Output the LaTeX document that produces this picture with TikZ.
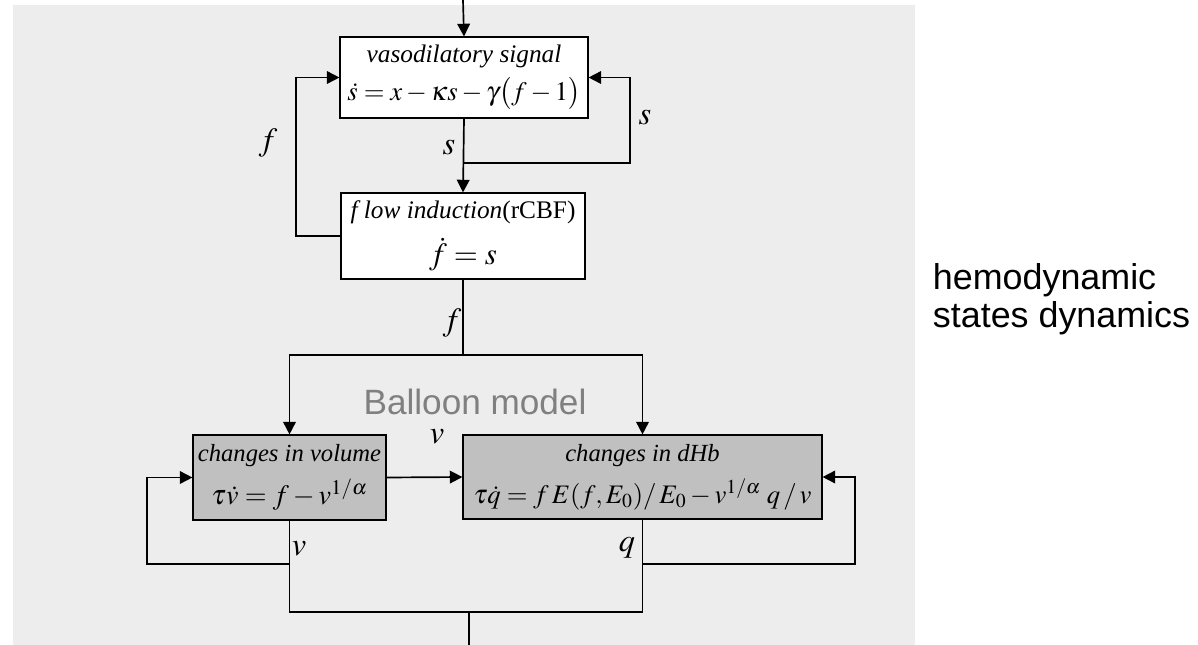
\documentclass[tikz,border=0pt]{standalone}
\usepackage{amsmath}
\usepackage{mathptmx}
\usepackage[no-math]{fontspec}
\setmainfont{Liberation Serif}
\newfontfamily\hemosans{Liberation Sans}
\usetikzlibrary{arrows.meta, positioning, calc}
\definecolor{bggray}{HTML}{EDEDED}
\definecolor{boxgray}{HTML}{C0C0C0}

\begin{document}
\begin{tikzpicture}[x=0.025cm, y=-0.025cm,
    blk/.style={draw, line width=0.8pt, align=center, inner sep=0pt},
    arr/.style={-{Triangle[length=9pt,width=9pt]}},
    ln/.style={line width=1.2pt},
    lbl/.style={font=\fontsize{23}{25}\selectfont}]
  \useasboundingbox (0,0) rectangle (1198,645);
  % background
  \fill[bggray] (13,5) rectangle (915,645);
  % hemodynamic blocks
  \node[blk, fill=white, minimum width=248*0.025cm, minimum height=81*0.025cm] (vaso) at (464,77.5)
    {{\fontsize{18}{20}\selectfont\itshape vasodilatory signal}\\[6pt]
     {\fontsize{19}{22}\selectfont $\dot{s} = x - \kappa s - \gamma\bigl(f - 1\bigr)$}};
  \node[blk, fill=white, minimum width=244*0.025cm, minimum height=86*0.025cm] (flow) at (463,236)
    {{\fontsize{18}{20}\selectfont{\itshape f low induction}(rCBF)}\\[9pt]
     {\fontsize{22}{24}\selectfont $\dot{f} = s$}};
  % Balloon
  \node[blk, fill=boxgray, minimum width=193*0.025cm, minimum height=85*0.025cm] (vol) at (289.5,477.5)
    {{\fontsize{17.5}{20}\selectfont\itshape changes in volume}\\[8pt]
     {\fontsize{20}{22}\selectfont $\boldsymbol{\tau}\dot{v} = f - v^{1/\alpha}$}};
  \node[blk, fill=boxgray, minimum width=359*0.025cm, minimum height=84*0.025cm] (dhb) at (642.5,477)
    {{\fontsize{17.5}{20}\selectfont\itshape changes in dHb}\\[8pt]
     {\fontsize{19}{22}\selectfont $\boldsymbol{\tau}\dot{q} = f\,E(f,E_0)/\,E_0 - v^{1/\alpha}\; q\,/\,v$}};
  \node[font=\hemosans\fontsize{25}{27}\selectfont, text=gray] (balloon) at (475,402) {Balloon model};
  \node[font=\hemosans\fontsize{25.5}{27}\selectfont, align=left, anchor=west] (hemo) at (928,299)
    {hemodynamic\\states dynamics};
  % junctions
  \coordinate (in) at (463,0);
  \coordinate (sj) at (463,163);
  \coordinate (fj) at (463,355);
  \coordinate (vj) at (290,564);
  \coordinate (qj) at (643,564);
  \coordinate (oj) at (469,612);
  \coordinate (out) at (469,645);
  % connectors
  \draw[ln, arr] (in) -- (vaso.north);
  \draw[ln, arr] (vaso.south) -- (flow.north);
  \draw[ln, arr] (sj) -- (630,163) |- (vaso.east);
  \draw[ln, arr] (flow.west) -- (296,236) |- (vaso.west);
  \draw[ln] (flow.south) -- (fj);
  \draw[ln, arr] (fj) -| (vol.north);
  \draw[ln, arr] (fj) -| (dhb.north);
  \draw[ln, arr] (vol.east) -- (dhb.west);
  \draw[ln] (vol.south) |- (oj) -| (dhb.south);
  \draw[ln, arr] (vj) -- (147,564) |- (vol.west);
  \draw[ln, arr] (qj) -- (855,564) |- (dhb.east);
  \draw[ln] (oj) -- (out);
  % labels
  \node[lbl] (lf) at (268,143) {$f$};
  \node[lbl] (ls) at (449,148) {$s$};
  \node[lbl] (lsr) at (645,118) {$s$};
  \node[lbl] (lf2) at (452,323) {$f$};
  \node[lbl] (lv) at (437,437) {$v$};
  \node[lbl] (lv2) at (299,549) {$v$};
  \node[lbl] (lq) at (627,548) {$q$};
\end{tikzpicture}
\end{document}
